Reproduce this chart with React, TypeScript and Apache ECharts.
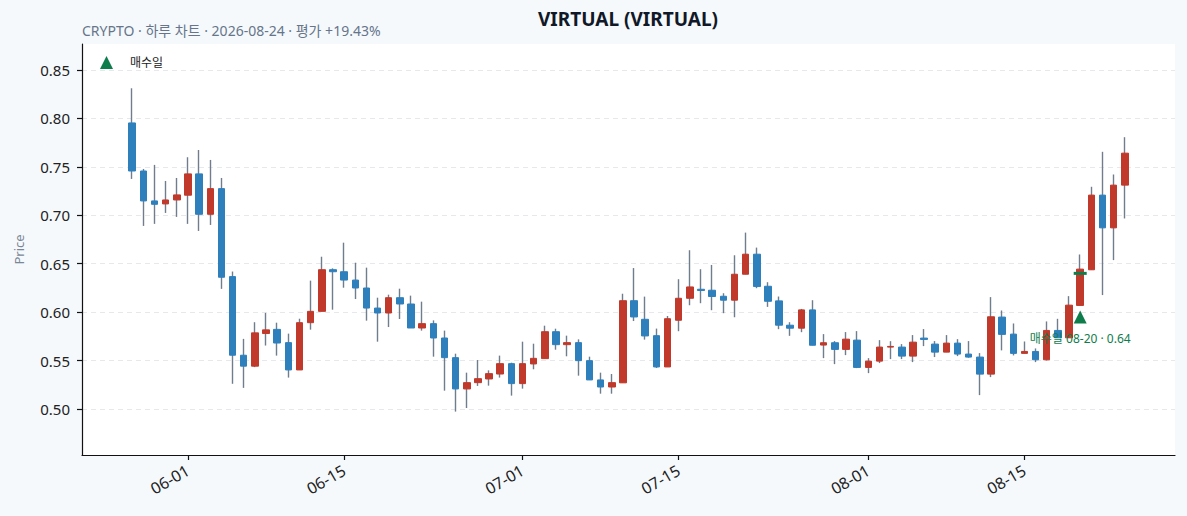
import React, { useEffect, useRef } from "react";
import * as echarts from "echarts";

// ---- data (2026-05-27 .. 2026-08-24, daily) ----
const firstDate = "2026-05-27";
const padBefore = 4;
const padAfter = 4;

const opens = [
  0.7953, 0.7457, 0.7148, 0.7117, 0.7158, 0.7207, 0.7427, 0.701, 0.7275, 0.6367,
  0.5555, 0.5442, 0.5779, 0.5822, 0.5685, 0.5403, 0.5891, 0.6008, 0.6438, 0.6417,
  0.6331, 0.6249, 0.6042, 0.5991, 0.6149, 0.6084, 0.5836, 0.5881, 0.5733, 0.553,
  0.5207, 0.5272, 0.531, 0.5361, 0.5468, 0.5262, 0.5465, 0.552, 0.5798, 0.5664,
  0.5685, 0.5499, 0.53, 0.5227, 0.527, 0.6118, 0.5926, 0.5757, 0.5434, 0.5916,
  0.6143, 0.6236, 0.6226, 0.6164, 0.6123, 0.6391, 0.6598, 0.6267, 0.6116, 0.5865,
  0.5834, 0.6023, 0.566, 0.5684, 0.5615, 0.5711, 0.5429, 0.5494, 0.5639, 0.5639,
  0.5546, 0.5732, 0.567, 0.5587, 0.568, 0.5567, 0.5536, 0.536, 0.5949, 0.5773,
  0.5574, 0.5594, 0.5508, 0.5811, 0.5735, 0.6069, 0.6437, 0.7208, 0.687, 0.7311,
];
const closes = [
  0.7457, 0.7148, 0.7113, 0.7158, 0.721, 0.7427, 0.701, 0.7275, 0.636, 0.5555,
  0.5442, 0.5786, 0.5817, 0.5681, 0.5403, 0.5891, 0.6008, 0.6438, 0.6417, 0.6331,
  0.6249, 0.6042, 0.5991, 0.6149, 0.6084, 0.5836, 0.5881, 0.5733, 0.553, 0.5207,
  0.5272, 0.5313, 0.5365, 0.5468, 0.5262, 0.5468, 0.5523, 0.5798, 0.5664, 0.5685,
  0.5499, 0.53, 0.5227, 0.5272, 0.6118, 0.595, 0.5754, 0.5434, 0.5932, 0.6143,
  0.626, 0.6223, 0.6161, 0.6123, 0.6391, 0.6598, 0.6264, 0.6112, 0.5865, 0.5834,
  0.6023, 0.5658, 0.5684, 0.5615, 0.5721, 0.5429, 0.5494, 0.5639, 0.5646, 0.5546,
  0.569, 0.5718, 0.5587, 0.568, 0.5567, 0.5536, 0.536, 0.5952, 0.577, 0.5574,
  0.5594, 0.5508, 0.5811, 0.5735, 0.6072, 0.6444, 0.7208, 0.687, 0.7311, 0.7641,
];
const lows = [
  0.7375, 0.689, 0.6911, 0.7024, 0.6983, 0.6911, 0.6838, 0.69, 0.624, 0.526,
  0.5218, 0.5432, 0.5655, 0.5551, 0.5324, 0.5403, 0.5819, 0.6008, 0.6025, 0.6252,
  0.6135, 0.5912, 0.5695, 0.5846, 0.5929, 0.5836, 0.5809, 0.554, 0.5189, 0.4973,
  0.501, 0.5238, 0.5241, 0.5324, 0.5138, 0.521, 0.541, 0.552, 0.5612, 0.5544,
  0.5344, 0.53, 0.5158, 0.5158, 0.527, 0.5908, 0.5716, 0.5423, 0.5434, 0.5803,
  0.6071, 0.6092, 0.602, 0.5989, 0.5947, 0.6391, 0.6247, 0.6054, 0.5824, 0.5755,
  0.5793, 0.5658, 0.5525, 0.5463, 0.5556, 0.5422, 0.537, 0.5474, 0.5515, 0.5515,
  0.5484, 0.5649, 0.5536, 0.5587, 0.5546, 0.5529, 0.5143, 0.5329, 0.5605, 0.5553,
  0.5574, 0.5484, 0.5501, 0.5735, 0.5735, 0.607, 0.6437, 0.6176, 0.6537, 0.6967,
];
const highs = [
  0.8311, 0.7478, 0.752, 0.7354, 0.7385, 0.7599, 0.7674, 0.7571, 0.7385, 0.6419,
  0.5724, 0.5896, 0.5992, 0.5891, 0.5778, 0.5932, 0.6325, 0.6572, 0.6452, 0.6717,
  0.651, 0.6459, 0.6149, 0.618, 0.6242, 0.617, 0.6108, 0.5915, 0.5809, 0.5571,
  0.5375, 0.5506, 0.5399, 0.5551, 0.5478, 0.5695, 0.5674, 0.586, 0.5829, 0.5757,
  0.5719, 0.554, 0.5375, 0.5361, 0.619, 0.6455, 0.616, 0.583, 0.596, 0.634,
  0.6639, 0.6443, 0.6487, 0.6195, 0.6587, 0.6821, 0.6666, 0.6309, 0.6161, 0.5896,
  0.6033, 0.6123, 0.5773, 0.5701, 0.5794, 0.5804, 0.5525, 0.5711, 0.57, 0.567,
  0.5763, 0.5825, 0.5701, 0.5763, 0.5721, 0.5701, 0.5577, 0.6155, 0.6017, 0.5883,
  0.5697, 0.5625, 0.5904, 0.5931, 0.6165, 0.6595, 0.7294, 0.7655, 0.7421, 0.7806,
];

const xTickDates = ["06-01", "06-15", "07-01", "07-15", "08-01", "08-15"];
const yTickValues = [0.5, 0.55, 0.6, 0.65, 0.7, 0.75, 0.8, 0.85];
const yMin = 0.4525;
const yMax = 0.8768;

const buyDate = "08-20";
const buyPrice = 0.64;
const buyLabel = "매수일 08-20 · 0.64";
const legendName = "매수일";
const titleText = "VIRTUAL (VIRTUAL)";
const subtitleText = "CRYPTO · 하루 차트 · 2026-08-24 · 평가 +19.43%";

const UP = "#c0392b";
const DOWN = "#2e80bd";
const WICK = "#6f7d8c";
const GREEN = "#0e7d4b";
const FONT = "'Noto Sans', 'Noto Sans CJK KR', sans-serif";

function buildCategories(): string[] {
  const out: string[] = [];
  const start = new Date(firstDate + "T00:00:00Z");
  const total = padBefore + opens.length + padAfter;
  for (let i = 0; i < total; i++) {
    const d = new Date(start.getTime() + (i - padBefore) * 86400000);
    const mm = String(d.getUTCMonth() + 1).padStart(2, "0");
    const dd = String(d.getUTCDate()).padStart(2, "0");
    out.push(mm + "-" + dd);
  }
  return out;
}

export default function App() {
  const ref = useRef<HTMLDivElement>(null);

  useEffect(() => {
    document.body.style.margin = "0";
    if (!ref.current) return;
    const chart = echarts.init(ref.current, undefined, { renderer: "svg" });

    const categories = buildCategories();
    const wickData: any[] = [];
    const bodyData: any[] = [];
    for (let i = 0; i < categories.length; i++) {
      const k = i - padBefore;
      if (k < 0 || k >= opens.length) {
        wickData.push("-");
        bodyData.push("-");
        continue;
      }
      const o = opens[k];
      const c = closes[k];
      wickData.push([o, c, lows[k], highs[k]]);
      bodyData.push([o, c, Math.min(o, c), Math.max(o, c)]);
    }
    const buyIdx = categories.indexOf(buyDate);
    const buyK = buyIdx - padBefore;
    const markerValue = lows[buyK] * 0.98;

    chart.setOption({
      animation: false,
      backgroundColor: "#f5f9fc",
      textStyle: { fontFamily: FONT },
      title: [
        {
          text: titleText,
          left: 628,
          top: 9,
          padding: 0,
          textAlign: "center",
          textStyle: { fontSize: 19, fontWeight: "bold", color: "#111827", fontFamily: FONT },
        },
        {
          text: subtitleText,
          left: 82,
          top: 23,
          padding: 0,
          textStyle: { fontSize: 14, fontWeight: "normal", color: "#66758a", fontFamily: FONT },
        },
      ],
      legend: {
        data: [{ name: legendName, icon: "triangle" }],
        left: 100,
        top: 56,
        padding: 0,
        itemWidth: 13,
        itemHeight: 13,
        textStyle: { fontSize: 12, color: "#222", fontFamily: FONT, padding: [0, 0, 0, 12] },
      },
      grid: {
        left: 82,
        right: 12,
        top: 44,
        bottom: 61,
        show: true,
        backgroundColor: "#ffffff",
        borderWidth: 0,
        outerBoundsMode: "none",
      },
      xAxis: {
        type: "category",
        data: categories,
        boundaryGap: true,
        axisLine: { show: true, onZero: false, lineStyle: { color: "#111", width: 1.2 } },
        axisTick: {
          show: true,
          alignWithLabel: true,
          length: 5,
          interval: (_i: number, v: string) => xTickDates.includes(v),
          lineStyle: { color: "#111", width: 1.2 },
        },
        axisLabel: {
          interval: (_i: number, v: string) => xTickDates.includes(v),
          rotate: 30,
          margin: 14,
          fontSize: 16,
          color: "#222",
          fontFamily: FONT,
        },
        splitLine: { show: false },
      },
      yAxis: {
        type: "value",
        min: yMin,
        max: yMax,
        scale: true,
        name: "Price",
        nameLocation: "middle",
        nameGap: 57,
        nameTextStyle: { color: "#7b8797", fontSize: 13, fontFamily: FONT },
        axisLine: { show: true, lineStyle: { color: "#111", width: 1.2 } },
        axisTick: { show: true, length: 5, customValues: yTickValues, lineStyle: { color: "#111", width: 1.2 } },
        axisLabel: {
          customValues: yTickValues,
          formatter: (v: number) => v.toFixed(2),
          margin: 12,
          fontSize: 15,
          color: "#222",
          fontFamily: FONT,
        },
        splitLine: {
          show: true,
          lineStyle: { color: "#e6e8eb", type: [5, 4], width: 1 },
        },
      },
      series: [
        {
          type: "candlestick",
          name: "wick",
          data: wickData,
          barWidth: 0.4,
          itemStyle: {
            color: WICK,
            color0: WICK,
            borderColor: WICK,
            borderColor0: WICK,
            borderWidth: 1.4,
          },
          emphasis: { disabled: true },
          silent: true,
        },
        {
          type: "candlestick",
          name: "body",
          data: bodyData,
          barWidth: 7,
          itemStyle: {
            color: UP,
            color0: DOWN,
            borderColor: UP,
            borderColor0: DOWN,
            borderWidth: 1,
          },
          emphasis: { disabled: true },
          silent: true,
        },
        {
          type: "scatter",
          name: "buyline",
          data: [[buyIdx, buyPrice]],
          symbol: "rect",
          symbolSize: [13, 3],
          itemStyle: { color: GREEN, opacity: 1 },
          z: 5,
          silent: true,
        },
        {
          type: "scatter",
          name: legendName,
          data: [[buyIdx, markerValue]],
          symbol: "triangle",
          symbolSize: 13,
          itemStyle: { color: GREEN, opacity: 1 },
          label: {
            show: true,
            position: "bottom",
            distance: 9,
            formatter: buyLabel,
            color: GREEN,
            fontSize: 12,
            fontFamily: FONT,
          },
          z: 6,
          silent: true,
        },
      ],
    });

    return () => chart.dispose();
  }, []);

  return <div ref={ref} style={{ width: 1187, height: 516 }} />;
}
